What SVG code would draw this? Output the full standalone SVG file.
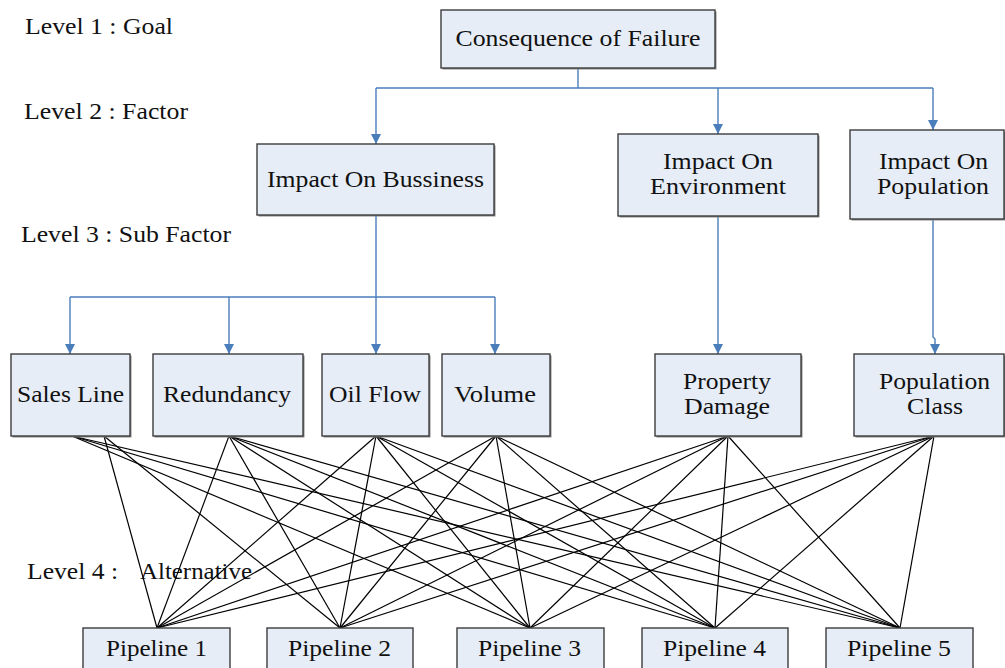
<svg xmlns="http://www.w3.org/2000/svg" width="1005" height="668" viewBox="0 0 1005 668">
  <style>
    .box { fill: #e6edf7; stroke: #3c3c3c; stroke-width: 1.4; }
    .shadow { fill: #8a8a8a; }
    text { font-family: "Liberation Serif", "Times New Roman", "DejaVu Serif", serif; font-size: 24px; fill: #111; }
    .mid { text-anchor: middle; }
    .tree { fill: none; stroke: #4a7ebb; stroke-width: 1.4; }
    .link { stroke: #000; stroke-width: 1.2; }
  </style>
  <defs>
    <marker id="arrow" markerWidth="10" markerHeight="10" refX="10" refY="5" orient="auto" markerUnits="userSpaceOnUse" viewBox="0 0 10 10">
      <path d="M0,0 L10,5 L0,10 Z" fill="#4a7ebb"/>
    </marker>
  </defs>

  <rect width="1005" height="668" fill="#ffffff"/>

  <!-- level captions -->
  <g id="levels">
    <text x="25" y="34" textLength="148" lengthAdjust="spacingAndGlyphs">Level 1 : Goal</text>
    <text x="24" y="119" textLength="164" lengthAdjust="spacingAndGlyphs">Level 2 : Factor</text>
    <text x="21" y="242" textLength="210" lengthAdjust="spacingAndGlyphs">Level 3 : Sub Factor</text>
    <text y="579"><tspan x="27" textLength="91" lengthAdjust="spacingAndGlyphs">Level 4 :</tspan><tspan x="140" textLength="112" lengthAdjust="spacingAndGlyphs">Alternative</tspan></text>
  </g>

  <!-- hierarchy connectors (blue) and sub-factor to alternative links (black) -->
  <g id="connectors">
    <path class="tree" d="M578,68 V88 M376,88 H933"/>
    <path class="tree" d="M376,88 V144" marker-end="url(#arrow)"/>
    <path class="tree" d="M718,88 V134" marker-end="url(#arrow)"/>
    <path class="tree" d="M933,88 V130" marker-end="url(#arrow)"/>

    <path class="tree" d="M376,215 V297 M70,297 H495"/>
    <path class="tree" d="M70,297 V354" marker-end="url(#arrow)"/>
    <path class="tree" d="M229,297 V354" marker-end="url(#arrow)"/>
    <path class="tree" d="M376,297 V354" marker-end="url(#arrow)"/>
    <path class="tree" d="M495,297 V354" marker-end="url(#arrow)"/>

    <path class="tree" d="M718,216 V354" marker-end="url(#arrow)"/>
    <path class="tree" d="M933,219 V337 L935,339 V354" marker-end="url(#arrow)"/>

    <g id="links">
      <!-- Sales Line -->
      <line class="link" x1="104" y1="436" x2="157" y2="628"/>
      <line class="link" x1="104" y1="436" x2="340" y2="628"/>
      <line class="link" x1="72" y1="436" x2="530" y2="628"/>
      <line class="link" x1="72" y1="436" x2="715" y2="628"/>
      <line class="link" x1="72" y1="436" x2="900" y2="628"/>
      <!-- Redundancy -->
      <line class="link" x1="229" y1="436" x2="157" y2="628"/>
      <line class="link" x1="229" y1="436" x2="340" y2="628"/>
      <line class="link" x1="229" y1="436" x2="530" y2="628"/>
      <line class="link" x1="229" y1="436" x2="715" y2="628"/>
      <line class="link" x1="229" y1="436" x2="900" y2="628"/>
      <!-- Oil Flow -->
      <line class="link" x1="376" y1="436" x2="157" y2="628"/>
      <line class="link" x1="376" y1="436" x2="340" y2="628"/>
      <line class="link" x1="376" y1="436" x2="530" y2="628"/>
      <line class="link" x1="376" y1="436" x2="715" y2="628"/>
      <line class="link" x1="376" y1="436" x2="900" y2="628"/>
      <!-- Volume -->
      <line class="link" x1="496" y1="436" x2="157" y2="628"/>
      <line class="link" x1="496" y1="436" x2="340" y2="628"/>
      <line class="link" x1="496" y1="436" x2="530" y2="628"/>
      <line class="link" x1="496" y1="436" x2="715" y2="628"/>
      <line class="link" x1="496" y1="436" x2="900" y2="628"/>
      <!-- Property Damage -->
      <line class="link" x1="728" y1="436" x2="157" y2="628"/>
      <line class="link" x1="728" y1="436" x2="340" y2="628"/>
      <line class="link" x1="728" y1="436" x2="530" y2="628"/>
      <line class="link" x1="728" y1="436" x2="715" y2="628"/>
      <line class="link" x1="728" y1="436" x2="900" y2="628"/>
      <!-- Population Class -->
      <line class="link" x1="934" y1="436" x2="157" y2="628"/>
      <line class="link" x1="934" y1="436" x2="340" y2="628"/>
      <line class="link" x1="934" y1="436" x2="530" y2="628"/>
      <line class="link" x1="934" y1="436" x2="715" y2="628"/>
      <line class="link" x1="934" y1="436" x2="900" y2="628"/>
    </g>
  </g>

  <!-- level 1 -->
  <g id="goal">
    <rect class="shadow" x="442.5" y="11.5" width="274" height="58"/>
    <rect class="box" x="441" y="10" width="274" height="58"/>
    <text class="mid" x="578" y="46" textLength="245" lengthAdjust="spacingAndGlyphs">Consequence of Failure</text>
  </g>

  <!-- level 2 -->
  <g id="impact-business">
    <rect class="shadow" x="258.5" y="145.5" width="237" height="71"/>
    <rect class="box" x="257" y="144" width="237" height="71"/>
    <text class="mid" x="375.5" y="187" textLength="217" lengthAdjust="spacingAndGlyphs">Impact On Bussiness</text>
  </g>
  <g id="impact-environment">
    <rect class="shadow" x="619.5" y="135.5" width="200" height="82"/>
    <rect class="box" x="618" y="134" width="200" height="82"/>
    <text class="mid" x="718" y="169" textLength="110" lengthAdjust="spacingAndGlyphs">Impact On</text>
    <text class="mid" x="718" y="194" textLength="136" lengthAdjust="spacingAndGlyphs">Environment</text>
  </g>
  <g id="impact-population">
    <rect class="shadow" x="851.5" y="131.5" width="154" height="89"/>
    <rect class="box" x="850" y="130" width="154" height="89"/>
    <text class="mid" x="933.5" y="169" textLength="109" lengthAdjust="spacingAndGlyphs">Impact On</text>
    <text class="mid" x="933" y="194" textLength="112" lengthAdjust="spacingAndGlyphs">Population</text>
  </g>

  <!-- level 3 -->
  <g id="sales-line">
    <rect class="shadow" x="12.5" y="355.5" width="119" height="82"/>
    <rect class="box" x="11" y="354" width="119" height="82"/>
    <text class="mid" x="70.5" y="402" textLength="107" lengthAdjust="spacingAndGlyphs">Sales Line</text>
  </g>
  <g id="redundancy">
    <rect class="shadow" x="154.5" y="355.5" width="150" height="82"/>
    <rect class="box" x="153" y="354" width="150" height="82"/>
    <text class="mid" x="227" y="402" textLength="128" lengthAdjust="spacingAndGlyphs">Redundancy</text>
  </g>
  <g id="oil-flow">
    <rect class="shadow" x="323.5" y="355.5" width="107" height="82"/>
    <rect class="box" x="322" y="354" width="107" height="82"/>
    <text class="mid" x="375" y="402" textLength="92" lengthAdjust="spacingAndGlyphs">Oil Flow</text>
  </g>
  <g id="volume">
    <rect class="shadow" x="443.5" y="355.5" width="108" height="82"/>
    <rect class="box" x="442" y="354" width="108" height="82"/>
    <text class="mid" x="495" y="402" textLength="82" lengthAdjust="spacingAndGlyphs">Volume</text>
  </g>
  <g id="property-damage">
    <rect class="shadow" x="656.5" y="355.5" width="146" height="82"/>
    <rect class="box" x="655" y="354" width="146" height="82"/>
    <text class="mid" x="727" y="389" textLength="88" lengthAdjust="spacingAndGlyphs">Property</text>
    <text class="mid" x="727" y="414" textLength="86" lengthAdjust="spacingAndGlyphs">Damage</text>
  </g>
  <g id="population-class">
    <rect class="shadow" x="855.5" y="355.5" width="150" height="82"/>
    <rect class="box" x="854" y="354" width="150" height="82"/>
    <text class="mid" x="934.5" y="389" textLength="111" lengthAdjust="spacingAndGlyphs">Population</text>
    <text class="mid" x="935" y="414" textLength="56" lengthAdjust="spacingAndGlyphs">Class</text>
  </g>

  <!-- level 4 -->
  <g id="pipeline-1">
    <rect class="box" x="83" y="628" width="147" height="50"/>
    <text class="mid" x="156.5" y="656" textLength="101" lengthAdjust="spacingAndGlyphs">Pipeline 1</text>
  </g>
  <g id="pipeline-2">
    <rect class="box" x="267" y="628" width="146" height="50"/>
    <text class="mid" x="339.5" y="656" textLength="103" lengthAdjust="spacingAndGlyphs">Pipeline 2</text>
  </g>
  <g id="pipeline-3">
    <rect class="box" x="457" y="628" width="147" height="50"/>
    <text class="mid" x="529.5" y="656" textLength="103" lengthAdjust="spacingAndGlyphs">Pipeline 3</text>
  </g>
  <g id="pipeline-4">
    <rect class="box" x="642" y="628" width="146" height="50"/>
    <text class="mid" x="714.5" y="656" textLength="103" lengthAdjust="spacingAndGlyphs">Pipeline 4</text>
  </g>
  <g id="pipeline-5">
    <rect class="box" x="826" y="628" width="147" height="50"/>
    <text class="mid" x="899" y="656" textLength="104" lengthAdjust="spacingAndGlyphs">Pipeline 5</text>
  </g>
</svg>
